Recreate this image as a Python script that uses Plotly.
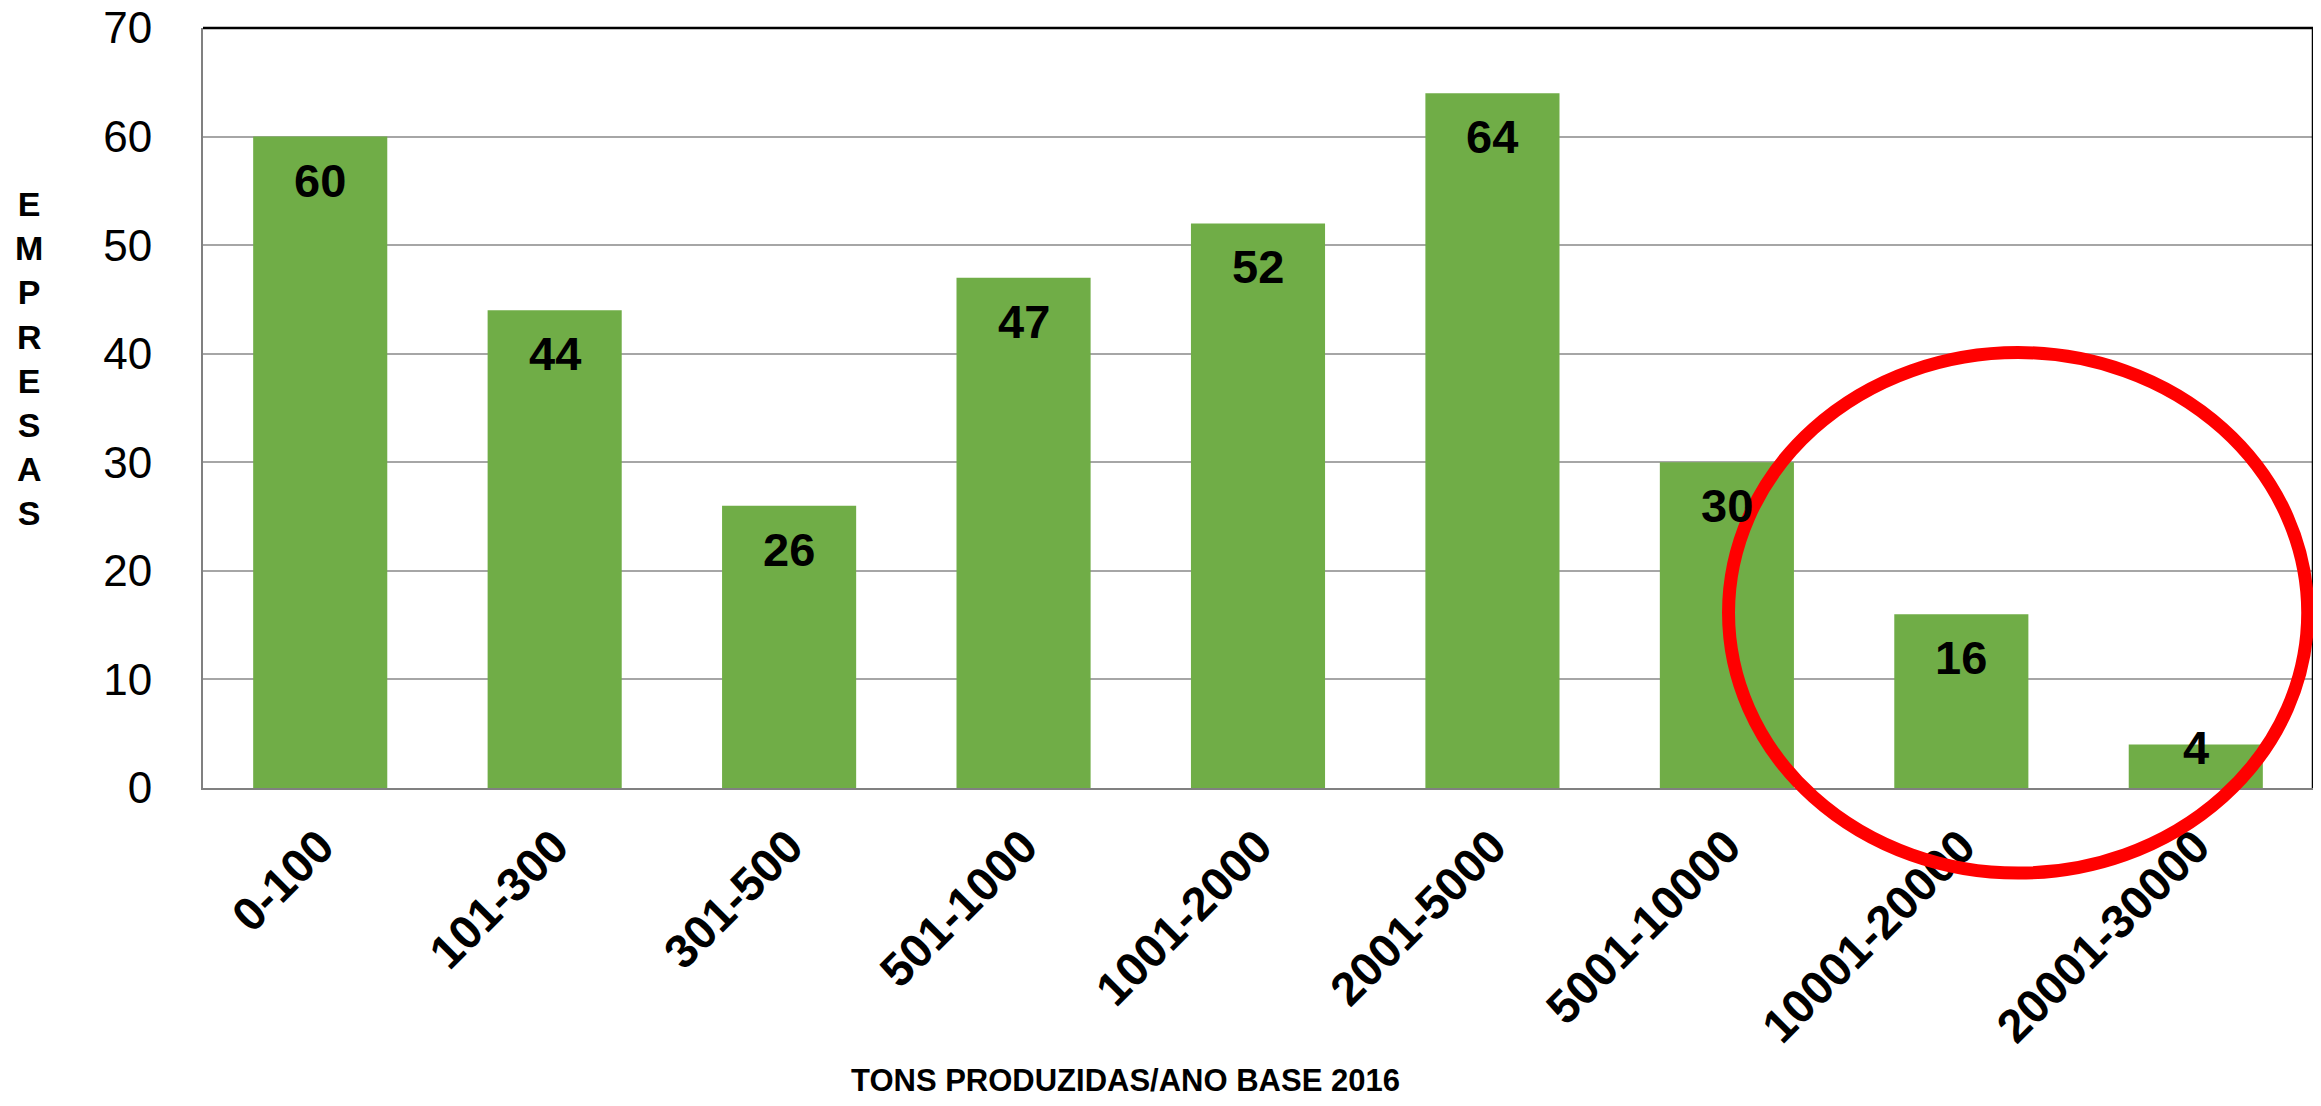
import plotly.graph_objects as go

categories = ["0-100", "101-300", "301-500", "501-1000", "1001-2000",
              "2001-5000", "5001-10000", "10001-20000", "20001-30000"]
empresas = [60, 44, 26, 47, 52, 64, 30, 16, 4]
y_ticks = [0, 10, 20, 30, 40, 50, 60, 70]
x_title = "TONS PRODUZIDAS/ANO BASE 2016"
y_title = "EMPRESAS"

# page body has an 8px margin; compensate so the chart lands where intended
W, H = 2313, 1098
L, R, T, B = 195, 8, 20, 318
Y_MAX = 70
plot_h = H - T - B

FONT = "Liberation Sans, Arial, sans-serif"

fig = go.Figure()
fig.add_trace(go.Bar(
    x=categories, y=empresas,
    marker=dict(color="#70ad47", line=dict(width=0)),
    hoverinfo="x+y",
))

# data labels (inside end, like Excel)
px_per_unit = plot_h / Y_MAX
for c, v in zip(categories, empresas):
    bar_px = v * px_per_unit
    shift = -15 if bar_px > 80 else 26
    fig.add_annotation(x=c, y=v, xref="x", yref="y", text=str(v),
                       showarrow=False, xanchor="center", yanchor="top",
                       yshift=shift,
                       font=dict(family=FONT, size=47, color="black", weight="bold"))

fig.update_layout(
    width=W, height=H,
    margin=dict(l=L, r=R, t=T, b=B, autoexpand=False),
    paper_bgcolor="white", plot_bgcolor="white",
    bargap=0.428,
    showlegend=False,
)
fig.update_xaxes(
    type="category",
    tickangle=-45,
    tickfont=dict(family=FONT, size=47, color="black", weight="bold"),
    showline=True, linecolor="#808080", linewidth=2,
    showgrid=False, ticks="", ticklabelstandoff=10,
    automargin=False,
)
fig.update_yaxes(
    range=[0, Y_MAX], tickvals=y_ticks,
    tickfont=dict(family=FONT, size=44, color="black"),
    showline=True, linecolor="#808080", linewidth=2,
    showgrid=True, gridcolor="#a6a6a6", gridwidth=1.5,
    ticks="", ticklabelstandoff=40, zeroline=False,
    ticklabeloverflow="allow", automargin=False,
)

# top and right border (black)
fig.add_shape(type="line", xref="paper", yref="paper", x0=0, x1=1, y0=1, y1=1,
              line=dict(color="black", width=2.5))
fig.add_shape(type="line", xref="paper", yref="paper", x0=1, x1=1, y0=0, y1=1,
              line=dict(color="black", width=2.5))

# red highlight ellipse
fig.add_shape(type="circle", xref="paper", yref="paper",
              x0=0.723, x1=0.9975, y0=-0.112, y1=0.573,
              line=dict(color="#ff0000", width=13), layer="above")

# axis titles
fig.add_annotation(text=x_title, xref="paper", yref="paper", x=0.437, y=-0.3855,
                   showarrow=False, xanchor="center", yanchor="middle",
                   font=dict(family=FONT, size=31, color="black", weight="bold"))
fig.add_annotation(text="<br>".join(list(y_title)), xref="paper", yref="paper",
                   x=-0.0825, y=0.5645, showarrow=False, xanchor="center", yanchor="middle",
                   align="center",
                   font=dict(family=FONT, size=34, color="black", weight="bold"))

fig.write_html("out.html")
